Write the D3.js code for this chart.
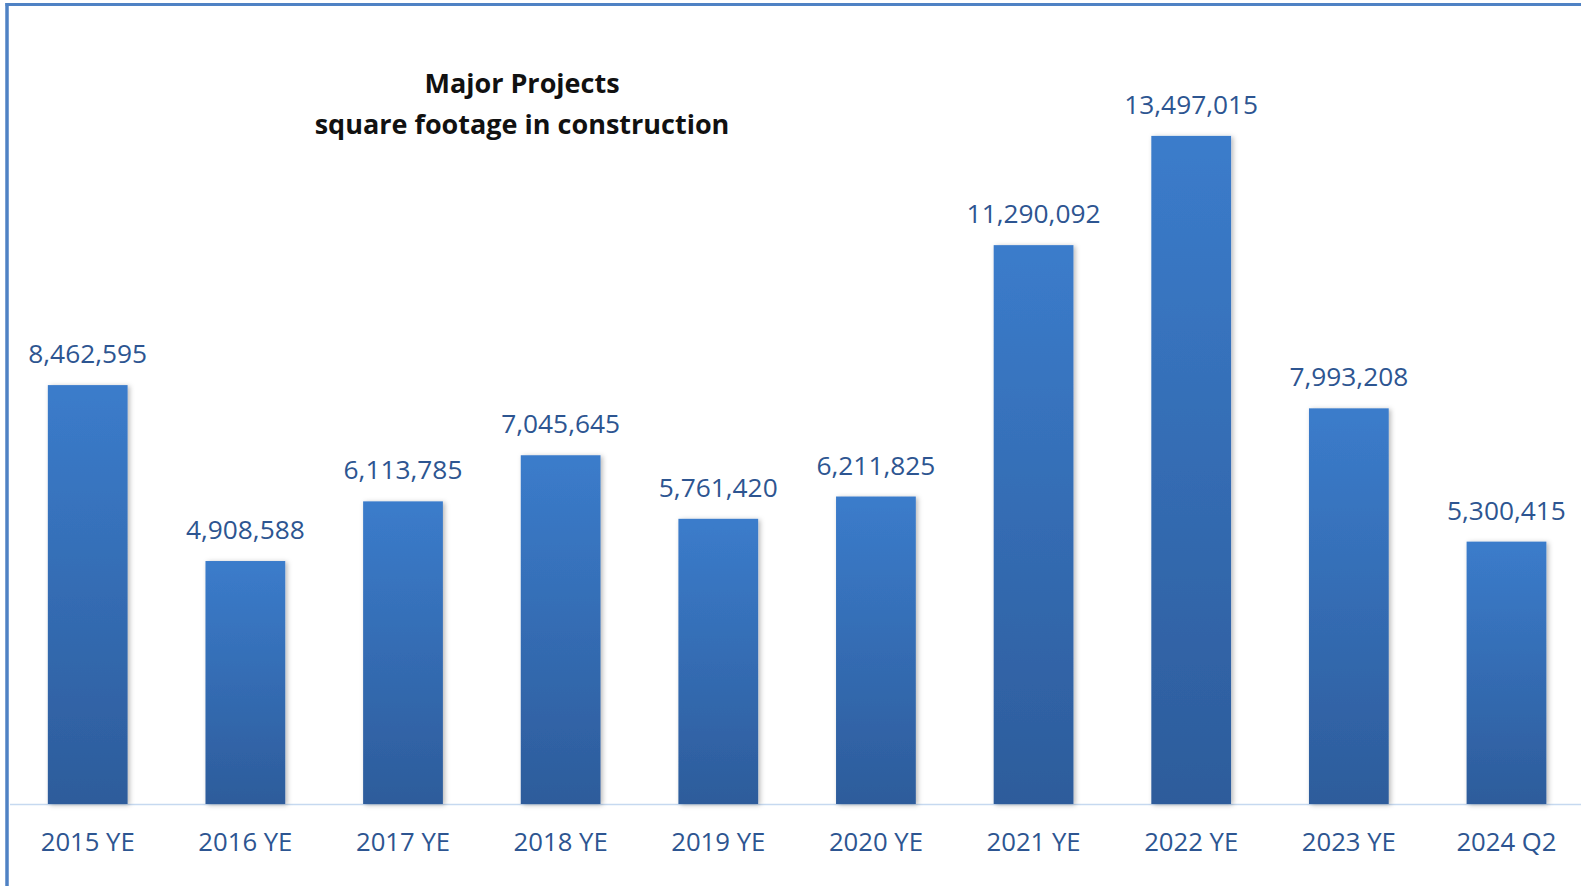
<!DOCTYPE html>
<html>
<head>
<meta charset="utf-8">
<script src="https://cdn.jsdelivr.net/npm/d3@7/dist/d3.min.js"></script>
<style>
html,body{margin:0;padding:0;background:#fff;overflow:hidden;}
svg{display:block;}
</style>
</head>
<body>
<svg id="chart" width="1581" height="886"></svg>
<script>
const categories = ["2015 YE","2016 YE","2017 YE","2018 YE","2019 YE","2020 YE","2021 YE","2022 YE","2023 YE","2024 Q2"];
const values = [8462595,4908588,6113785,7045645,5761420,6211825,11290092,13497015,7993208,5300415];
const titleLines = ["Major Projects","square footage in construction"];

const W = 1581, H = 886;
const svg = d3.select("#chart");
const FONT = "'Open Sans', 'Noto Sans', sans-serif";
const BLUE_TXT = "#2d5591";

const defs = svg.append("defs");
const grad = defs.append("linearGradient").attr("id","barGrad").attr("x1",0).attr("y1",0).attr("x2",0).attr("y2",1);
grad.append("stop").attr("offset","0%").attr("stop-color","#3b7ccb");
grad.append("stop").attr("offset","100%").attr("stop-color","#2d5c9b");
const f = defs.append("filter").attr("id","shadow").attr("x","-20%").attr("y","-5%").attr("width","140%").attr("height","110%");
f.append("feDropShadow").attr("dx",2).attr("dy",1).attr("stdDeviation",2.5).attr("flood-color","#000").attr("flood-opacity",0.28);

// frame
svg.append("line").attr("x1",7).attr("x2",7).attr("y1",3).attr("y2",H).attr("stroke","#4f82c4").attr("stroke-width",3.5);
svg.append("line").attr("x1",5.5).attr("x2",W).attr("y1",4.5).attr("y2",4.5).attr("stroke","#4f82c4").attr("stroke-width",3);

const baseY = 804;
const y = d3.scaleLinear().domain([0,16000000]).range([baseY, 12]);
const x = d3.scaleBand().domain(categories).range([8.9, 1585.3]).paddingInner(0.494).paddingOuter(0.247);

// baseline
svg.append("line").attr("x1",10).attr("x2",W).attr("y1",baseY+0.5).attr("y2",baseY+0.5).attr("stroke","#c6d9f0").attr("stroke-width",1.5);

const data = categories.map((c,i)=>({c, v: values[i]}));

svg.append("g").selectAll("rect").data(data).join("rect")
  .attr("x", d=>x(d.c)).attr("width", x.bandwidth())
  .attr("y", d=>y(d.v)).attr("height", d=>baseY - y(d.v))
  .attr("fill","url(#barGrad)").attr("filter","url(#shadow)");

const fmt = d3.format(",");
svg.append("g").selectAll("text").data(data).join("text")
  .attr("x", d=>x(d.c)+x.bandwidth()/2).attr("y", d=>y(d.v)-22)
  .attr("text-anchor","middle").attr("font-family",FONT).attr("font-size",26.3)
  .attr("fill",BLUE_TXT).text(d=>fmt(d.v));

// x axis labels
const xAxis = d3.axisBottom(x).tickSize(0).tickPadding(0);
const ax = svg.append("g").attr("transform",`translate(0,${baseY})`).call(xAxis);
ax.select(".domain").remove();
ax.selectAll("text").attr("font-family",FONT).attr("font-size",25.7).attr("fill",BLUE_TXT)
  .attr("dy",null).attr("y",47);

// title
svg.append("g").selectAll("text").data(titleLines).join("text")
  .attr("x",522).attr("y",(d,i)=>93+i*41).attr("text-anchor","middle")
  .attr("font-family",FONT).attr("font-weight","bold").attr("font-size",27).attr("fill","#111")
  .text(d=>d);
</script>
</body>
</html>
